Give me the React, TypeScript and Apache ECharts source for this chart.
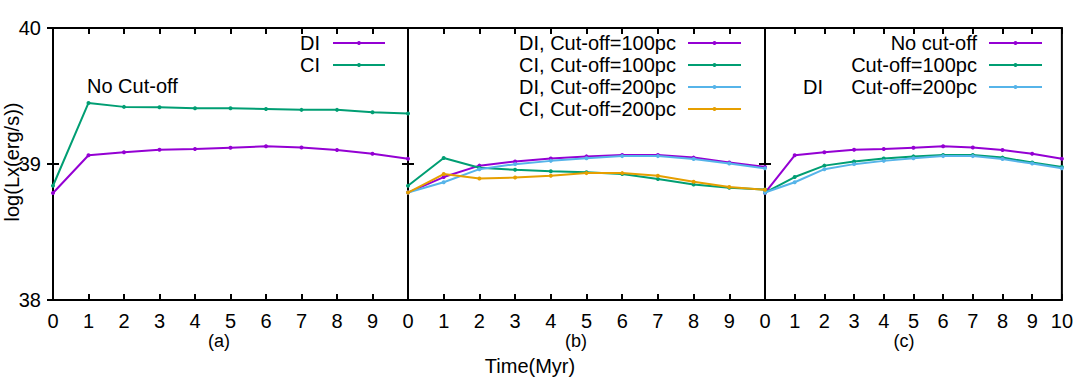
import React, { useEffect, useRef } from "react";
import * as echarts from "echarts";

// ---- data ----
const times = [0, 1, 2, 3, 4, 5, 6, 7, 8, 9, 10];
const noCutDI = [38.787, 39.064, 39.087, 39.105, 39.11, 39.12, 39.13, 39.122, 39.103, 39.075, 39.038];
const noCutCI = [38.84, 39.449, 39.42, 39.418, 39.41, 39.41, 39.405, 39.398, 39.398, 39.38, 39.372];
const cut100DI = [38.79, 38.904, 38.988, 39.019, 39.04, 39.056, 39.066, 39.066, 39.047, 39.011, 38.978];
const cut100CI = [38.84, 39.044, 38.972, 38.957, 38.946, 38.939, 38.926, 38.89, 38.85, 38.826, 38.813];
const cut200DI = [38.79, 38.866, 38.962, 38.999, 39.023, 39.043, 39.058, 39.058, 39.036, 39.003, 38.968];
const cut200CI = [38.79, 38.926, 38.894, 38.9, 38.914, 38.933, 38.933, 38.914, 38.87, 38.831, 38.81];

const legendA = ["DI", "CI"];
const legendB = ["DI, Cut-off=100pc", "CI, Cut-off=100pc", "DI, Cut-off=200pc", "CI, Cut-off=200pc"];
const legendC = ["No cut-off", "Cut-off=100pc", "Cut-off=200pc"];
const panelLabels = ["(a)", "(b)", "(c)"];
const yName = "log(Lx(erg/s))";
const xName = "Time(Myr)";
const noteA = "No Cut-off";
const noteC = "DI";

const PURPLE = "#9400d3";
const GREEN = "#009e73";
const BLUE = "#56b4e9";
const ORANGE = "#e69f00";

const FONT = "Liberation Sans, Arial, sans-serif";
const FS = 20;

const panels = [
  { left: 53, width: 355, series: [noCutDI, noCutCI], colors: [PURPLE, GREEN], legend: legendA, textRight: 320, sampleX: [333, 385], label: 219 },
  { left: 408, width: 357, series: [cut100DI, cut100CI, cut200DI, cut200CI], colors: [PURPLE, GREEN, BLUE, ORANGE], legend: legendB, textRight: 676, sampleX: [688, 741], label: 576 },
  { left: 765, width: 298, series: [noCutDI, cut100DI, cut200DI], colors: [PURPLE, GREEN, BLUE], legend: legendC, textRight: 977, sampleX: [989, 1042], label: 904 },
];

const TOP = 28;
const HEIGHT = 272;
const legendRows = [43, 65, 87, 109];

function txt(text: string, x: number, y: number, align: string, size = FS, extra: any = {}) {
  return {
    type: "text",
    x,
    y,
    ...extra,
    style: {
      text,
      fill: "#000",
      font: `${size}px ${FONT}`,
      fontSize: size,
      fontFamily: FONT,
      align,
      verticalAlign: "middle",
      textAlign: align,
      textVerticalAlign: "middle",
    },
  };
}

export default function App() {
  const ref = useRef<HTMLDivElement>(null);
  useEffect(() => {
    if (!ref.current) return;
    const chart = echarts.init(ref.current, undefined, { renderer: "svg" });

    const grid: any[] = [];
    const xAxis: any[] = [];
    const yAxis: any[] = [];
    const series: any[] = [];
    const graphic: any[] = [];

    const tick = { inside: true, length: 6, lineStyle: { color: "#000", width: 2 } };

    panels.forEach((p) => {
      grid.push({ left: p.left, top: TOP, width: p.width, height: HEIGHT, show: true, borderColor: "#000", borderWidth: 2, backgroundColor: "transparent" });
    });
    panels.forEach((p, g) => {
      xAxis.push({
        type: "value", gridIndex: g, min: 0, max: 10, interval: 1, position: "bottom",
        axisLine: { show: false }, axisTick: tick, splitLine: { show: false },
        axisLabel: {
          fontSize: FS, color: "#000", fontFamily: FONT, margin: 11,
          formatter: (v: number) => (g < 2 && v === 10 ? "" : String(v)),
        },
      });
    });
    panels.forEach((p, g) => {
      xAxis.push({
        type: "value", gridIndex: g, min: 0, max: 10, interval: 1, position: "top",
        axisLine: { show: false }, axisTick: tick, splitLine: { show: false }, axisLabel: { show: false },
      });
    });
    panels.forEach((p, g) => {
      yAxis.push({
        type: "value", gridIndex: g, min: 38, max: 40, interval: 1, position: "left",
        axisLine: { show: false }, axisTick: tick, splitLine: { show: false },
        axisLabel: { show: g === 0, fontSize: FS, color: "#000", fontFamily: FONT, margin: 12 },
      });
    });
    panels.forEach((p, g) => {
      yAxis.push({
        type: "value", gridIndex: g, min: 38, max: 40, interval: 1, position: "right",
        axisLine: { show: false }, axisTick: tick, splitLine: { show: false }, axisLabel: { show: false },
      });
    });

    panels.forEach((p, g) => {
      p.series.forEach((arr, i) => {
        series.push({
          type: "line",
          name: p.legend[i],
          xAxisIndex: g,
          yAxisIndex: g,
          data: times.map((t, k) => [t, arr[k]]),
          symbol: "circle",
          symbolSize: 4,
          showSymbol: true,
          clip: false,
          lineStyle: { width: 2, color: p.colors[i] },
          itemStyle: { color: p.colors[i] },
          z: 3 + i,
        });
      });
      p.legend.forEach((name, i) => {
        const y = legendRows[i];
        graphic.push(txt(name, p.textRight, y, "right"));
        graphic.push({ type: "line", shape: { x1: p.sampleX[0], y1: y, x2: p.sampleX[1], y2: y }, style: { stroke: p.colors[i], lineWidth: 2 } });
        graphic.push({ type: "circle", shape: { cx: (p.sampleX[0] + p.sampleX[1]) / 2, cy: y, r: 2 }, style: { fill: p.colors[i] } });
      });
      graphic.push(txt(panelLabels[g], p.label, 341, "center", 18));
    });

    graphic.push(txt(noteA, 87, 86, "left"));
    graphic.push(txt(noteC, 813, 87, "center"));
    graphic.push(txt(xName, 530, 366, "center"));
    graphic.push(txt(yName, 12, 162, "center", FS, { rotation: Math.PI / 2 }));

    chart.setOption({
      animation: false,
      backgroundColor: "#fff",
      textStyle: { fontFamily: FONT },
      grid,
      xAxis,
      yAxis,
      series,
      graphic,
    });
    return () => chart.dispose();
  }, []);
  return <div ref={ref} style={{ position: "fixed", left: 0, top: 0, width: 1076, height: 379 }} />;
}
